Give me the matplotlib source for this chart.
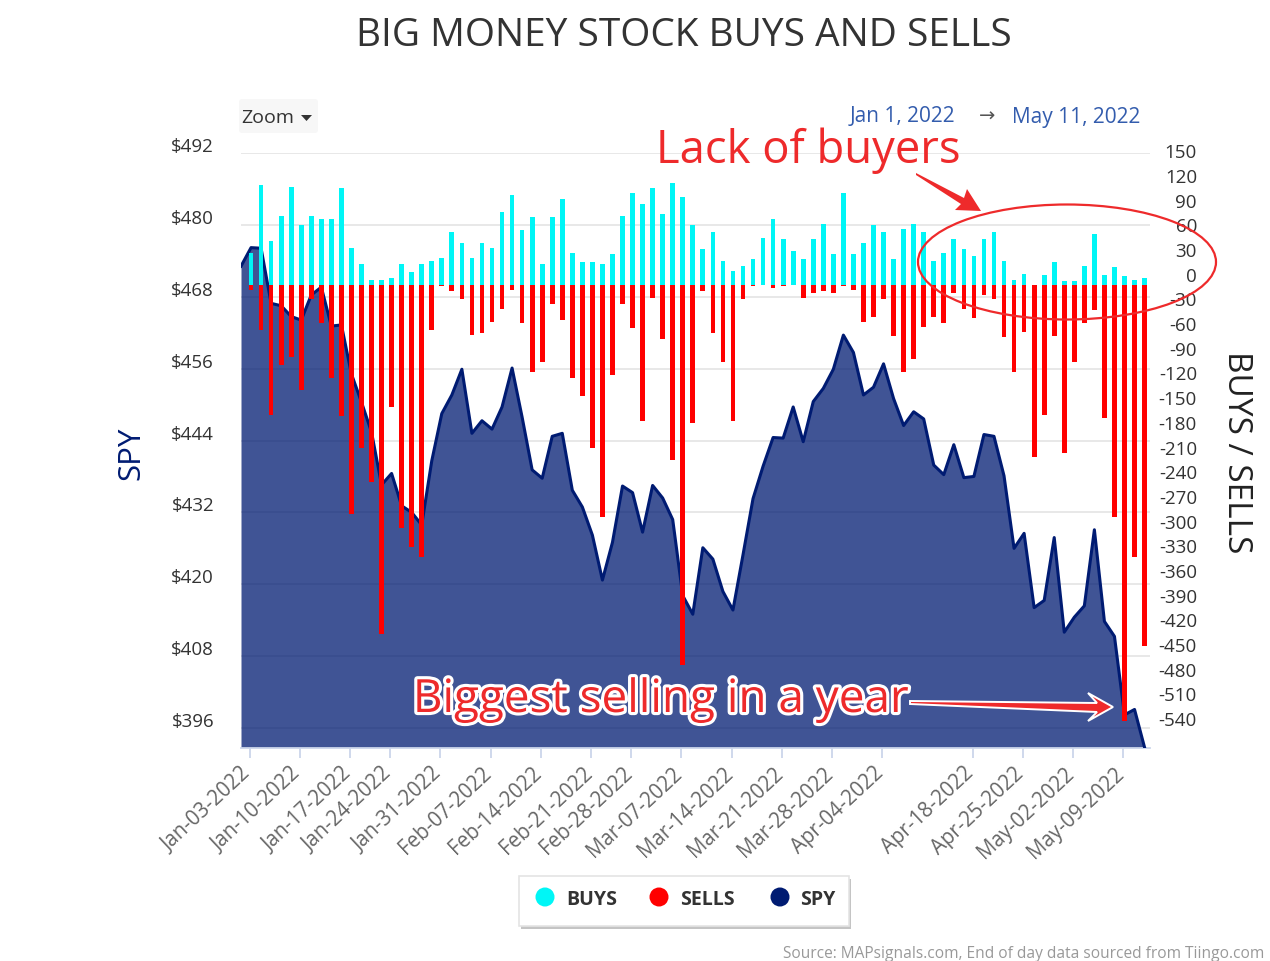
import numpy as np
import pandas as pd
import matplotlib
matplotlib.use('Agg')
import matplotlib.pyplot as plt
import matplotlib.patheffects as pe
from matplotlib.patches import Ellipse, Rectangle, Polygon, FancyBboxPatch
from matplotlib.transforms import ScaledTranslation

plt.rcParams['font.family'] = ['Open Sans', 'DejaVu Sans']

# values
buys = [38, 121, 53, 84, 119, 72, 84, 80, 80, 117, 45, 25, 6, 6, 8, 25, 15, 25, 29, 33,
        64, 51, 33, 51, 45, 88, 109, 66, 82, 25, 82, 104, 39, 27, 27, 25, 37, 84, 111, 98,
        117, 86, 123, 107, 72, 43, 64, 29, 17, 23, 31, 57, 80, 55, 41, 31, 55, 74, 37, 111,
        37, 51, 72, 64, 31, 68, 74, 64, 29, 39, 55, 43, 35, 55, 64, 29, 6, 13, 0, 12,
        27, 4, 4, 23, 62, 12, 21, 10, 6, 8]
sells = [6, 55, 158, 98, 88, 128, 17, 47, 113, 160, 278, 198, 240, 424, 149, 296, 319, 331, 55, 2,
         8, 17, 61, 59, 45, 29, 6, 47, 106, 94, 23, 43, 113, 135, 198, 282, 110, 23, 53, 166,
         16, 66, 213, 462, 168, 8, 59, 94, 166, 17, 2, 0, 4, 2, 0, 16, 10, 8, 10, 2,
         6, 45, 39, 17, 62, 106, 90, 51, 39, 47, 10, 29, 41, 13, 17, 64, 106, 57, 209, 158,
         62, 204, 94, 47, 31, 162, 282, 530, 331, 439]
# starts one session before the first bar
spy = [473.1, 476.2, 476.1, 466.9, 466.5, 464.7, 464.1, 468.3, 469.6, 463.1, 463.3,
       455.1, 450.4, 445.4, 436.6, 438.5, 433.1, 432.0, 429.9, 440.6, 448.5,
       451.6, 455.9, 445.2, 447.3, 445.9, 449.6, 456.1, 447.9, 439.1, 437.7,
       444.7, 445.2, 435.7, 432.9, 428.2, 420.7, 427.0, 436.4, 435.3, 428.7,
       436.5, 434.4, 430.8, 418.1, 415.0, 426.1, 424.2, 418.8, 415.7, 424.9,
       434.3, 439.7, 444.5, 444.4, 449.6, 443.8, 450.5, 452.7, 455.9, 461.6,
       458.7, 451.6, 452.9, 456.8, 451.0, 446.5, 448.8, 447.6, 439.9, 438.3,
       443.3, 437.8, 438.0, 445.0, 444.7, 438.1, 426.0, 428.5, 416.1, 417.3,
       427.8, 412.0, 414.5, 416.4, 429.1, 413.8, 411.3, 398.2, 399.1, 392.75]
date_labels = ['Jan-03-2022', 'Jan-10-2022', 'Jan-17-2022', 'Jan-24-2022', 'Jan-31-2022',
               'Feb-07-2022', 'Feb-14-2022', 'Feb-21-2022', 'Feb-28-2022', 'Mar-07-2022',
               'Mar-14-2022', 'Mar-21-2022', 'Mar-28-2022', 'Apr-04-2022', 'Apr-18-2022',
               'Apr-25-2022', 'May-02-2022', 'May-09-2022']
holidays = ['2022-01-17', '2022-02-21', '2022-04-15']
spy_ticks = [396, 408, 420, 432, 444, 456, 468, 480, 492]
flow_ticks = list(range(-540, 151, 30))

W, H = 1270, 962
RED = '#ee2a2b'
NAVY = '#001b72'
GRAY = '#666666'

# trading sessions give the bar positions, the axis is ordinal
days = pd.bdate_range('2022-01-03', '2022-05-11').difference(pd.to_datetime(holidays))
x = np.arange(len(days))
tick_pos = days.searchsorted(pd.to_datetime(date_labels, format='%b-%d-%Y'))

fig = plt.figure(figsize=(W / 100, H / 100), dpi=100)
left, right, top, bottom = 241, 1150, 154, 748.5
ax = fig.add_axes([left / W, (H - bottom) / H, (right - left) / W, (bottom - top) / H])

# SPY area and the grid go on the left axis
spy_x = np.arange(-1, len(days))
ax.fill_between(spy_x, spy, 392.75, color=NAVY, alpha=0.75, linewidth=0, zorder=2)
ax.plot(spy_x, spy, color=NAVY, linewidth=2.2, solid_joinstyle='round', zorder=3)
ax.set_xlim(-1, 89.54)
ax.set_ylim(392.75, 492)
ax.set_yticks(spy_ticks)
ax.set_yticklabels(['$%d' % t for t in spy_ticks], fontsize=13.5, color='#333333')
ax.grid(axis='y', color='#e6e6e6', linewidth=1.3, zorder=1)
ax.set_axisbelow(True)
ax.tick_params(axis='y', length=0, pad=19.4)
for lab in ax.get_yticklabels():
    lab.set_transform(lab.get_transform() + ScaledTranslation(0, 9 / 100, fig.dpi_scale_trans))

ax.set_xticks(tick_pos - 0.13)
ax.set_xticklabels(date_labels, rotation=43, ha='right', va='top', rotation_mode='anchor',
                   fontsize=14.8, color=GRAY)
ax.tick_params(axis='x', length=7.5, width=1.3, color='#ccd6eb', pad=3)
for lab in ax.get_xticklabels():
    lab.set_transform(lab.get_transform() + ScaledTranslation(-9 / 100, 0, fig.dpi_scale_trans))
for name, spine in ax.spines.items():
    spine.set_visible(name == 'bottom')
ax.spines['bottom'].set_color('#ccd6eb')
ax.spines['bottom'].set_linewidth(1.3)

# buys and sells on the right axis, over the area
ax2 = ax.twinx()
ax2.patch.set_visible(False)
ax2.bar(x, buys, width=0.47, color='#00f6f6', linewidth=0)
ax2.bar(x, -np.array(sells), width=0.47, color='#ff0000', linewidth=0)
ax2.set_ylim(-562.3, 160)
ax2.set_yticks(flow_ticks)
ax2.set_yticklabels([str(t) for t in flow_ticks], fontsize=13.5, color='#333333', ha='right')
ax2.tick_params(axis='y', length=0, pad=33.8)
for lab in ax2.get_yticklabels():
    lab.set_transform(lab.get_transform() + ScaledTranslation(0, 11 / 100, fig.dpi_scale_trans))
for spine in ax2.spines.values():
    spine.set_visible(False)

# everything else is placed in image pixels on an overlay
ov = fig.add_axes([0, 0, 1, 1], zorder=10)
ov.set_xlim(0, W)
ov.set_ylim(H, 0)
ov.axis('off')

ov.text(684, 36, 'BIG MONEY STOCK BUYS AND SELLS', ha='center', va='center',
        fontsize=27.9, color='#333333')
ov.text(131, 453, 'SPY', rotation=90, ha='center', va='center', fontsize=22.5, color=NAVY)
ov.text(1236, 452, 'BUYS / SELLS', rotation=-90, ha='center', va='center', fontsize=24,
        color='#222222')

# zoom button and date range
ov.add_patch(FancyBboxPatch((241, 102), 75, 30, boxstyle='round,pad=2,rounding_size=3',
                            facecolor='#f7f7f7', edgecolor='none'))
ov.text(241, 118, 'Zoom', ha='left', va='center', fontsize=14, color='#333333')
ov.add_patch(Polygon([[301, 116], [312, 116], [306.5, 122]], closed=True, facecolor='#333333',
                     edgecolor='none'))
ov.text(850, 117, 'Jan 1, 2022', ha='left', va='center', fontsize=15, color='#335cad')
ov.text(987, 116, '\u2192', ha='center', va='center', fontsize=14, color='#555555',
        family='DejaVu Sans')
ov.text(1140, 117, 'May 11, 2022', ha='right', va='center', fontsize=15, color='#335cad')

# hand drawn notes
ov.text(808, 151, 'Lack of buyers', ha='center', va='center', fontsize=32.7, color=RED)
ov.add_patch(Polygon([[916, 174], [964, 199], [967, 190], [981, 212], [955, 211], [961, 205],
                      [916, 176]], closed=True, facecolor=RED, edgecolor='none'))
ov.add_patch(Ellipse((1067, 263), 298, 115, facecolor='none', edgecolor=RED, linewidth=1.6))
halo = [pe.withStroke(linewidth=4.5, foreground='white')]
ov.text(661, 701, 'Biggest selling in a year', ha='center', va='center', fontsize=33,
        color=RED, path_effects=halo)
arrow = Polygon([[910, 702], [1097, 704], [1088, 694], [1113, 708], [1088, 722], [1097, 713],
                 [910, 705]], closed=True, facecolor=RED, edgecolor='white', linewidth=1.4)
ov.add_patch(arrow)

# legend box with shadow
ov.add_patch(Rectangle((521, 880), 330, 50, facecolor='#c4c4c4', edgecolor='none'))
ov.add_patch(Rectangle((519, 877), 330, 50, facecolor='white', edgecolor='#e4e4e4', linewidth=1.2))
for cx, col, tx, name in [(545, '#00f6f6', 566, 'BUYS'), (659, '#ff0000', 680, 'SELLS'),
                          (780, NAVY, 800, 'SPY')]:
    ov.add_patch(Ellipse((cx, 898), 19, 19, facecolor=col, edgecolor='none'))
    ov.text(tx, 900.5, name, ha='left', va='center', fontsize=14, fontweight='bold',
            color='#333333')

ov.text(1264, 954, 'Source: MAPsignals.com, End of day data sourced from Tiingo.com', ha='right',
        va='center', fontsize=11.2, color='#999999')

fig.savefig('out.png', dpi=100)
